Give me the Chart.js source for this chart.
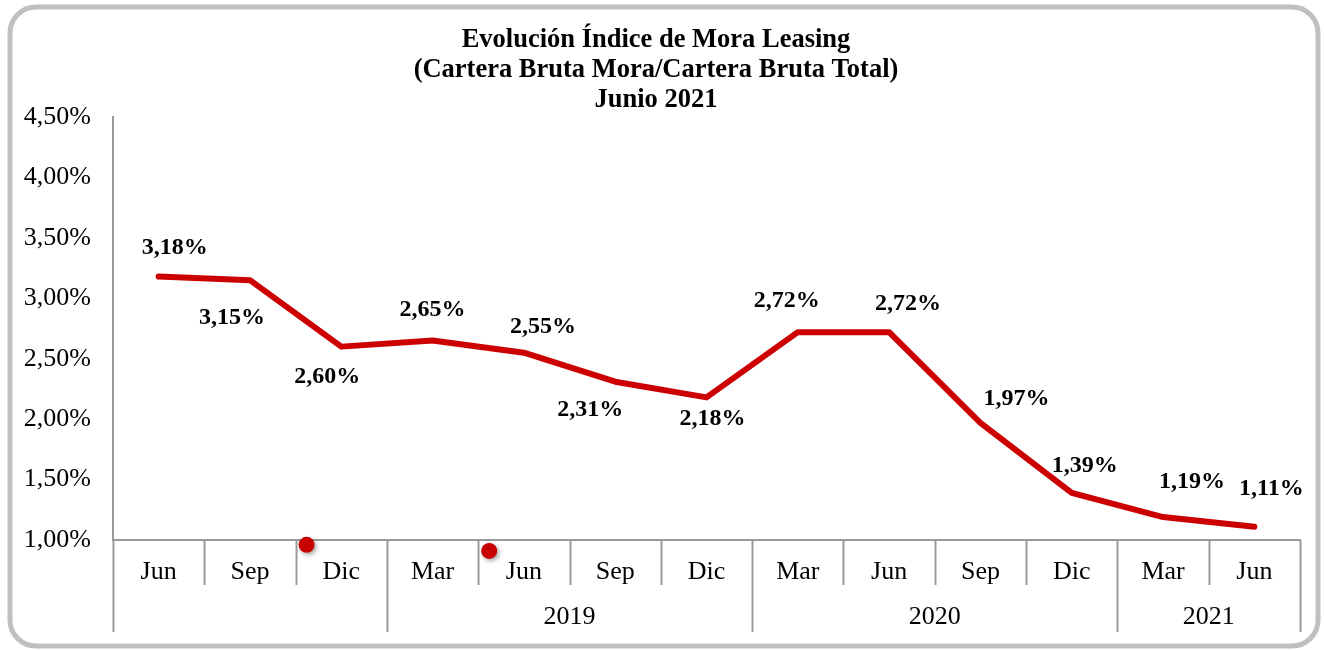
<!DOCTYPE html>
<html><head><meta charset="utf-8">
<style>html,body{margin:0;padding:0;background:#fff;}canvas{display:block;}</style>
<script src="https://cdn.jsdelivr.net/npm/chart.js@4.4.1/dist/chart.umd.min.js"></script>
</head><body>
<canvas id="c" width="1324" height="650"></canvas>
<script>
const titleLines = ['Evolución Índice de Mora Leasing', '(Cartera Bruta Mora/Cartera Bruta Total)', 'Junio 2021'];
const months = ['Jun','Sep','Dic','Mar','Jun','Sep','Dic','Mar','Jun','Sep','Dic','Mar','Jun'];
const yearLabels = ['', '2019', '2020', '2021'];
const yearSpans = [3, 4, 4, 2];
const moraValues = [3.18, 3.15, 2.60, 2.65, 2.55, 2.31, 2.18, 2.72, 2.72, 1.97, 1.39, 1.19, 1.11];
const yMin = 1.0, yMax = 4.5, yStep = 0.5;
// stray red markers seen in the picture (category-index, percent)
const markerX = [1.62, 3.62];
const markerY = [0.96, 0.91];
// label placement offsets (style, px)
const labelOffsets = [[16,-29],[-18,38],[-14,30],[0,-31],[19,-26],[-25,28],[6,21],[-11,-31],[19,-28],[36,-24],[13,-27],[29,-35],[17,-38]];

const SERIF = "'Liberation Serif','Times New Roman',serif";
const AXIS = '#9a9a9a';
const fmt = v => v.toFixed(2).replace('.', ',') + '%';

const decor = {
  id: 'decor',
  beforeDraw(chart) {
    const ctx = chart.ctx;
    ctx.save();
    ctx.fillStyle = '#fff';
    ctx.fillRect(0, 0, chart.width, chart.height);
    ctx.strokeStyle = '#c0c0c0';
    ctx.lineWidth = 5;
    ctx.beginPath();
    ctx.roundRect(10, 7, 1308, 639, 26);
    ctx.stroke();
    ctx.restore();
  },
  afterDraw(chart) {
    const ctx = chart.ctx;
    const xs = chart.scales.x, ys = chart.scales.y;
    const base = chart.chartArea.bottom;
    ctx.save();
    // category separators
    ctx.strokeStyle = AXIS;
    ctx.lineWidth = 2;
    const groupEdges = [0];
    yearSpans.forEach(s => groupEdges.push(groupEdges[groupEdges.length - 1] + s));
    for (let i = 0; i <= months.length; i++) {
      const px = Math.round(xs.getPixelForValue(i - 0.5)) + 0.5;
      const long = groupEdges.includes(i);
      ctx.beginPath();
      ctx.moveTo(px, base);
      ctx.lineTo(px, long ? base + 92 : base + 45);
      ctx.stroke();
    }
    // year labels
    ctx.fillStyle = '#000';
    ctx.font = '26px ' + SERIF;
    ctx.textAlign = 'center';
    ctx.textBaseline = 'middle';
    yearLabels.forEach((lab, g) => {
      if (!lab) return;
      const a = xs.getPixelForValue(groupEdges[g] - 0.5);
      const b = xs.getPixelForValue(groupEdges[g + 1] - 0.5);
      ctx.fillText(lab, (a + b) / 2, base + 77);
    });
    // stray markers
    ctx.save();
    ctx.shadowColor = 'rgba(0,0,0,0.35)';
    ctx.shadowBlur = 4;
    ctx.shadowOffsetX = 2;
    ctx.shadowOffsetY = 2;
    ctx.fillStyle = '#c80000';
    markerX.forEach((mx, i) => {
      ctx.beginPath();
      ctx.arc(xs.getPixelForValue(mx), ys.getPixelForValue(markerY[i]), 8, 0, Math.PI * 2);
      ctx.fill();
    });
    ctx.restore();
    // data labels
    ctx.fillStyle = '#000';
    ctx.font = 'bold 24px ' + SERIF;
    const meta = chart.getDatasetMeta(0);
    meta.data.forEach((pt, i) => {
      const o = labelOffsets[i];
      ctx.fillText(fmt(moraValues[i]), pt.x + o[0], pt.y + o[1]);
    });
    // title
    ctx.font = 'bold 26.5px ' + SERIF;
    titleLines.forEach((t, i) => ctx.fillText(t, 656, 40 + i * 30));
    ctx.restore();
  }
};

const yTickVals = [];
for (let v = yMin; v <= yMax + 1e-9; v += yStep) yTickVals.push(+v.toFixed(2));

new Chart(document.getElementById('c'), {
  type: 'line',
  data: {
    labels: months,
    datasets: [{
      data: moraValues,
      borderColor: '#cc0000',
      borderWidth: 6,
      pointRadius: 0,
      tension: 0,
      fill: false,
      borderJoinStyle: 'round',
      borderCapStyle: 'round'
    }]
  },
  options: {
    responsive: false,
    animation: false,
    devicePixelRatio: 1,
    layout: { padding: { top: 117, right: 24, left: 0, bottom: 0 } },
    plugins: { legend: { display: false }, tooltip: { enabled: false }, title: { display: false } },
    scales: {
      x: {
        type: 'category',
        offset: true,
        grid: { display: false, drawTicks: false },
        border: { display: true, color: AXIS, width: 2 },
        ticks: { color: '#000', font: { family: SERIF, size: 26 }, padding: 17, maxRotation: 0, autoSkip: false },
        afterFit: s => { s.height = 110; }
      },
      y: {
        min: yMin, max: yMax,
        afterBuildTicks: s => { s.ticks = yTickVals.map(v => ({value: v})); },
        grid: { display: false, drawTicks: false },
        border: { display: true, color: AXIS, width: 2 },
        ticks: { color: '#000', font: { family: SERIF, size: 26 }, padding: 22, callback: v => fmt(v) },
        afterFit: s => { s.width = 113; }
      }
    }
  },
  plugins: [decor]
});
</script>
</body></html>
